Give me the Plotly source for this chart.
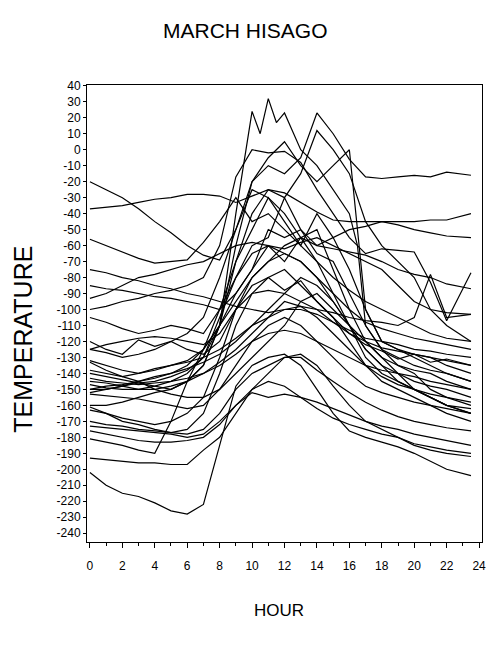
import plotly.graph_objects as go

# ---- data (hour of day, temperature) ----
HOURS = list(range(23)) + [23.5]

u1 = [-20, -25, -30, -37, -45, -52, -60, -66, -69, -50, -25, -30, -40, -55, -60, -62, -64, -66, -70, -75, -78, -80, -84, -87]
u2 = [-37, -36, -35, -33, -31, -30, -28, -28, -29, -33, -29, -25, -27, -33, -39, -44, -45, -45, -45, -45, -45, -44, -44, -40]
u3 = [-100, -98, -95, -93, -90, -88, -85, -80, -60, -17, 0, -2, -1, -8, -25, -40, -55, -65, -62, -63, -64, -83, -107, -77]
u5 = [-125, -127, -130, -128, -125, -120, -115, -105, -80, -50, -20, -10, -15, -5, 23, 10, -6, -17, -18, -17, -16, -17, -14, -16]
u6 = [-150, -150, -148, -146, -145, -142, -138, -130, -110, -70, -40, -25, -30, -15, 12, 0, -15, -45, -60, -70, -80, -100, -110, -120]
u7 = [-160, -160, -158, -155, -152, -150, -145, -135, -110, -60, -20, -5, 5, -10, -20, -10, 0, -100, -120, -125, -128, -130, -135, -140]
m1 = [-132, -135, -138, -140, -138, -135, -132, -125, -100, -70, -50, -30, -45, -60, -40, -55, -75, -100, -120, -125, -130, -135, -140, -145]
m2 = [-145, -146, -148, -150, -148, -145, -140, -130, -105, -80, -60, -55, -30, -50, -65, -70, -90, -110, -125, -135, -140, -150, -155, -160]
m3 = [-152, -150, -148, -145, -142, -140, -135, -125, -110, -90, -75, -60, -70, -55, -50, -75, -100, -120, -130, -135, -138, -140, -145, -150]
m4 = [-163, -165, -168, -170, -172, -170, -165, -155, -130, -100, -80, -70, -65, -70, -80, -95, -110, -125, -135, -145, -150, -155, -160, -165]
m5 = [-170, -172, -173, -175, -176, -177, -175, -165, -140, -110, -90, -80, -75, -85, -95, -105, -120, -135, -145, -150, -155, -160, -165, -170]
m6 = [-105, -108, -112, -115, -113, -110, -112, -115, -100, -80, -65, -60, -62, -58, -55, -60, -65, -70, -75, -85, -95, -100, -102, -103]
m7 = [-85, -87, -88, -90, -92, -93, -95, -97, -100, -90, -75, -50, -55, -50, -60, -55, -50, -48, -45, -47, -50, -52, -54, -55]
f1 = [-93, -90, -85, -80, -78, -75, -72, -70, -65, -60, -58, -60, -65, -70, -80, -90, -100, -108, -112, -115, -118, -120, -122, -125]
f2 = [-75, -77, -80, -82, -85, -87, -90, -92, -95, -98, -100, -102, -100, -98, -100, -102, -105, -107, -108, -110, -105, -78, -105, -103]
f3 = [-56, -60, -64, -68, -71, -70, -69, -58, -45, -30, -45, -40, -50, -60, -70, -80, -88, -95, -100, -105, -110, -115, -118, -120]
l1 = [-120, -125, -128, -119, -123, -120, -125, -128, -120, -100, -85, -80, -88, -82, -95, -105, -115, -122, -126, -131, -128, -133, -131, -135]
l2 = [-125, -122, -120, -118, -117, -118, -120, -122, -115, -100, -90, -88, -90, -95, -100, -108, -113, -118, -120, -122, -125, -126, -128, -130]
l3 = [-138, -140, -142, -140, -137, -135, -133, -130, -125, -118, -110, -105, -100, -100, -103, -108, -115, -120, -124, -126, -128, -130, -132, -135]
l4 = [-143, -145, -146, -147, -146, -145, -143, -140, -135, -128, -120, -115, -113, -115, -120, -125, -130, -135, -138, -140, -142, -145, -147, -150]
l5 = [-147, -149, -150, -150, -150, -148, -145, -140, -133, -125, -115, -105, -95, -98, -105, -115, -125, -135, -142, -147, -150, -153, -155, -158]
l6 = [-153, -154, -155, -156, -158, -160, -162, -160, -150, -135, -120, -110, -105, -110, -120, -130, -140, -148, -152, -155, -158, -160, -162, -165]
l7 = [-161, -165, -170, -172, -175, -177, -178, -175, -165, -150, -140, -135, -130, -130, -138, -145, -152, -158, -163, -167, -170, -172, -174, -176]
l8 = [-173, -174, -175, -176, -177, -178, -180, -178, -170, -160, -152, -155, -153, -155, -158, -162, -166, -170, -173, -175, -178, -180, -182, -185]
l9 = [-176, -178, -180, -182, -183, -183, -182, -180, -172, -160, -150, -145, -148, -155, -162, -168, -172, -175, -178, -180, -184, -186, -188, -190]
l10 = [-181, -183, -185, -188, -190, -170, -145, -125, -110, -95, -80, -70, -60, -55, -70, -90, -110, -125, -135, -140, -145, -148, -150, -155]
l11 = [-133, -138, -142, -145, -150, -153, -155, -155, -150, -140, -130, -120, -110, -95, -90, -100, -110, -120, -130, -140, -150, -155, -160, -162]
l12 = [-150, -148, -147, -145, -143, -140, -137, -133, -128, -120, -110, -100, -90, -80, -85, -95, -110, -130, -140, -145, -150, -155, -160, -165]
c1 = [-202, -210, -215, -217, -221, -226, -228, -222, -185, -148, -135, -130, -128, -135, -150, -165, -176, -180, -183, -186, -190, -195, -200, -204]
c2 = [-193, -194, -195, -196, -196, -197, -197, -188, -180, -165, -150, -140, -130, -128, -135, -148, -160, -170, -175, -180, -185, -188, -190, -192]

# one spiky day recorded at half-hour steps around midday
U4_HOURS = [0, 1, 2, 3, 4, 5, 6, 7, 8, 9, 10, 10.5, 11, 11.5, 12, 12.5, 13, 14, 15, 16, 16.5, 17, 18, 19, 20, 21, 22, 23.5]
u4 = [-140, -142, -144, -146, -148, -150, -145, -135, -110, -40, 24, 10, 32, 17, 23, 12, 0, -10, -25, -40, -60, -110, -125, -130, -135, -138, -140, -145]

HOURLY_SERIES = [u1, u2, u3, u5, u6, u7, m1, m2, m3, m4, m5, m6, m7, f1, f2, f3,
                 l1, l2, l3, l4, l5, l6, l7, l8, l9, l10, l11, l12, c1, c2]

Y_TICKS = list(range(-240, 41, 10))
Y_TICK_TEXT = [str(v) for v in Y_TICKS]
X_TICKS = list(range(0, 25, 2))
X_TICK_TEXT = [str(v) for v in X_TICKS]

fig = go.Figure()
line_style = dict(color="black", width=1.2)
for s in HOURLY_SERIES:
    fig.add_trace(go.Scatter(x=HOURS, y=s, mode="lines", line=line_style,
                             hoverinfo="skip", showlegend=False))
fig.add_trace(go.Scatter(x=U4_HOURS, y=u4, mode="lines", line=line_style,
                         hoverinfo="skip", showlegend=False))

# the page body adds an 8px offset; lay the figure out in page pixels minus that offset
OFF = 8
PAGE_W, PAGE_H = 494, 657
W, H = PAGE_W - OFF, PAGE_H - OFF
PLOT_LEFT, PLOT_RIGHT, PLOT_TOP, PLOT_BOTTOM = 87, 486, 85, 542  # page pixels
L = PLOT_LEFT - OFF
R = W - (PLOT_RIGHT - OFF)
T = PLOT_TOP - OFF
B = H - (PLOT_BOTTOM - OFF)
pw = W - L - R
ph = H - T - B

def px(xp):
    return (xp - OFF - L) / pw

def py(yp):
    return (H - B - (yp - OFF)) / ph

fig.update_layout(
    width=W, height=H,
    margin=dict(l=L, r=R, t=T, b=B),
    paper_bgcolor="white", plot_bgcolor="white",
    font=dict(family="Liberation Sans, Arial, sans-serif", color="black"),
    showlegend=False,
    annotations=[
        dict(text="MARCH HISAGO", x=px(247), y=py(30), xref="paper", yref="paper",
             showarrow=False, font=dict(size=21, color="black"), xanchor="center", yanchor="middle"),
        dict(text="TEMPERATURE", x=px(22), y=py(339), xref="paper", yref="paper",
             showarrow=False, textangle=-90, font=dict(size=25, color="black"),
             xanchor="center", yanchor="middle"),
        dict(text="HOUR", x=px(281), y=py(610), xref="paper", yref="paper",
             showarrow=False, font=dict(size=17, color="black"), xanchor="center", yanchor="middle"),
    ],
)

fig.update_xaxes(
    range=[-0.18, 24.18], showgrid=False, zeroline=False,
    showline=True, linecolor="black", linewidth=1, mirror=True,
    tickmode="array", tickvals=X_TICKS, ticktext=X_TICK_TEXT,
    ticks="outside", ticklen=5, tickcolor="black", tickwidth=1,
    ticklabelstandoff=8,
    minor=dict(dtick=1, ticks="outside", ticklen=3, tickcolor="black"),
    tickfont=dict(size=12, color="black"),
)
fig.update_yaxes(
    range=[-245.5, 40.5], showgrid=False, zeroline=False,
    showline=True, linecolor="black", linewidth=1, mirror=True,
    tickmode="array", tickvals=Y_TICKS, ticktext=Y_TICK_TEXT,
    ticks="outside", ticklen=3, tickcolor="black", tickwidth=1,
    tickfont=dict(size=12, color="black"),
)

fig.write_html("out.html")
